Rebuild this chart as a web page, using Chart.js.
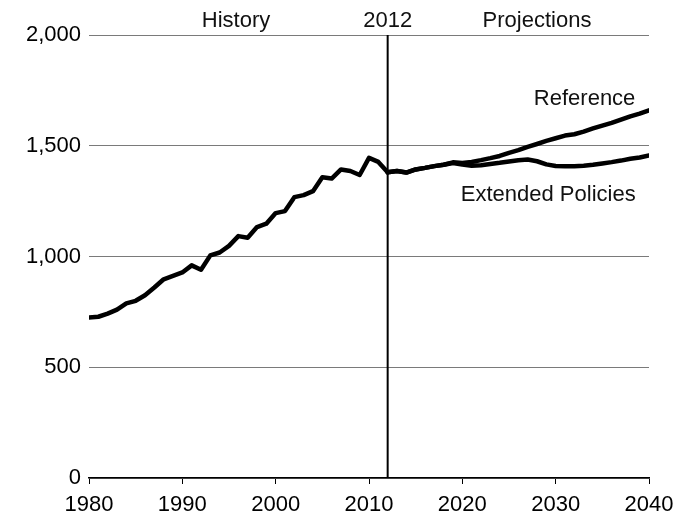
<!DOCTYPE html>
<html>
<head>
<meta charset="utf-8">
<script src="https://cdn.jsdelivr.net/npm/chart.js@4.4.1/dist/chart.umd.min.js"></script>
<style>
  html, body { margin: 0; padding: 0; background: #fff; }
  #wrap { width: 686px; height: 516px; }
</style>
</head>
<body>
<div id="wrap"><canvas id="chart" width="686" height="516"></canvas></div>
<script>
// history, 1980-2012
const historyYears = [1980, 1981, 1982, 1983, 1984, 1985, 1986, 1987, 1988, 1989,
  1990, 1991, 1992, 1993, 1994, 1995, 1996, 1997, 1998, 1999,
  2000, 2001, 2002, 2003, 2004, 2005, 2006, 2007, 2008, 2009,
  2010, 2011, 2012]
const historyValues = [725, 728, 742, 760, 788, 800, 825, 860, 897, 912,
  928, 960, 940, 1005, 1018, 1048, 1092, 1085, 1133, 1148,
  1196, 1205, 1268, 1277, 1295, 1358, 1352, 1393, 1386, 1368,
  1445, 1427, 1380]

// projections, 2012-2040
const projYears = [2012, 2013, 2014, 2015, 2016, 2017, 2018, 2019, 2020,
  2021, 2022, 2023, 2024, 2025, 2026, 2027, 2028, 2029, 2030,
  2031, 2032, 2033, 2034, 2035, 2036, 2037, 2038, 2039, 2040]
const referenceValues = [1380, 1386, 1379, 1393, 1400, 1408, 1414, 1425, 1422,
  1427, 1435, 1444, 1454, 1468, 1480, 1495, 1508, 1522, 1534,
  1546, 1552, 1564, 1578, 1591, 1603, 1618, 1633, 1645, 1660]
const extendedValues = [1380, 1386, 1379, 1393, 1400, 1408, 1414, 1422, 1415,
  1410, 1412, 1418, 1423, 1429, 1435, 1438, 1430, 1416, 1409,
  1408, 1408, 1410, 1414, 1420, 1426, 1433, 1441, 1447, 1456]

const dividerYear = 2012
const xTicks = [1980, 1990, 2000, 2010, 2020, 2030, 2040]
const yTicks = [0, 500, 1000, 1500, 2000]

// text labels placed in data coordinates
const labelTexts = ['History', '2012', 'Projections', 'Reference', 'Extended Policies']
const labelYears = [1995.75, 2012, 2028, 2033.1, 2029.2]
const labelValues = [2065, 2065, 2065, 1711, 1278]

const FONT = '"Liberation Sans", Arial, sans-serif'

function toPoints(xs, ys) {
  return xs.map((x, i) => ({ x: x, y: ys[i] }))
}

const textPlugin = {
  id: 'chartText',
  afterDatasetsDraw(chart) {
    const ctx = chart.ctx
    const xs = chart.scales.x
    const ys = chart.scales.y
    ctx.save()
    ctx.font = '22px ' + FONT
    ctx.fillStyle = '#111'
    ctx.textAlign = 'center'
    ctx.textBaseline = 'middle'
    labelTexts.forEach((t, i) => {
      ctx.fillText(t, xs.getPixelForValue(labelYears[i]), ys.getPixelForValue(labelValues[i]))
    })
    ctx.restore()
  }
}

const lineStyle = {
  borderColor: '#000',
  borderWidth: 4.5,
  pointRadius: 0,
  tension: 0,
  borderJoinStyle: 'round',
  borderCapStyle: 'round',
  fill: false
}

new Chart(document.getElementById('chart'), {
  type: 'line',
  data: {
    datasets: [
      { label: 'divider', data: [{ x: dividerYear, y: 0 }, { x: dividerYear, y: 2000 }],
        borderColor: '#000', borderWidth: 2, pointRadius: 0 },
      { label: 'History', data: toPoints(historyYears, historyValues), ...lineStyle },
      { label: 'Reference', data: toPoints(projYears, referenceValues), ...lineStyle },
      { label: 'Extended Policies', data: toPoints(projYears, extendedValues), ...lineStyle }
    ]
  },
  options: {
    responsive: false,
    animation: false,
    layout: { padding: { top: 35, right: 37, left: 0, bottom: 0 } },
    plugins: {
      legend: { display: false },
      tooltip: { enabled: false }
    },
    scales: {
      x: {
        type: 'linear',
        min: 1980,
        max: 2040,
        afterBuildTicks: (scale) => { scale.ticks = xTicks.map(v => ({ value: v })) },
        afterFit: (scale) => { scale.height = 38 },
        grid: { drawOnChartArea: false, drawTicks: true, tickLength: 6, color: '#000', lineWidth: 1 },
        border: { display: true, color: '#000', width: 1.5 },
        ticks: { color: '#000', font: { family: FONT, size: 22 }, padding: 8, maxRotation: 0,
                 callback: (v) => String(v) }
      },
      y: {
        min: 0,
        max: 2000,
        afterBuildTicks: (scale) => { scale.ticks = yTicks.map(v => ({ value: v })) },
        afterFit: (scale) => { scale.width = 89 },
        grid: { drawTicks: false, color: '#7a7a7a', lineWidth: 1 },
        border: { display: false },
        ticks: { color: '#000', font: { family: FONT, size: 22 }, padding: 8,
                 callback: (v) => v.toLocaleString('en-US') }
      }
    }
  },
  plugins: [textPlugin]
})
</script>
</body>
</html>
